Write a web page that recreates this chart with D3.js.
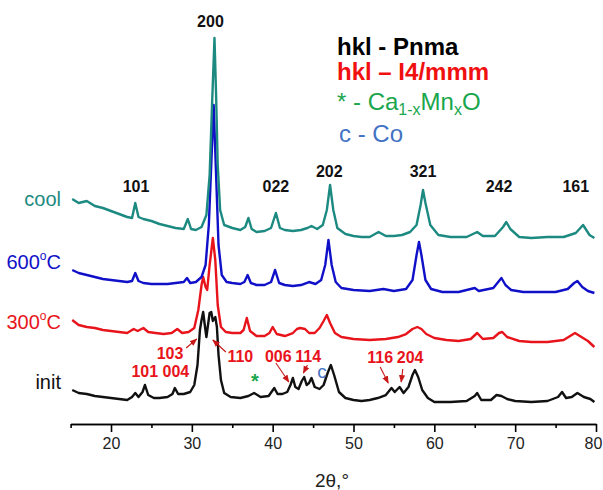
<!DOCTYPE html>
<html><head><meta charset="utf-8">
<script src="https://cdn.jsdelivr.net/npm/d3@7"></script>
<style>
body{margin:0;background:#fff;}
svg{display:block;font-family:"Liberation Sans",Arial,sans-serif;}
</style></head>
<body><svg id="c" width="603" height="490"></svg>
<script>
// 2θ (deg) and intensity (arbitrary units, offset included)
const initData = [[15.2,35],[16,32],[17,31],[18,29],[19,28],[20,27],[21,26],[22,25],[22.6,28],[23.0,32],[23.4,28],[23.9,33],[24.2,40],[24.6,30],[25.3,27],[26,27],[27,28],[27.6,31],[27.9,37],[28.3,31],[29,31],[29.8,33],[30.3,40],[30.7,60],[31.0,95],[31.2,105],[31.4,113],[31.6,100],[31.8,88],[32.0,100],[32.2,112],[32.4,113],[32.6,104],[32.9,108],[33.1,98],[33.3,70],[33.6,45],[34,32],[34.8,28],[36,27],[37,29],[37.7,32],[38.5,28],[39.5,29],[40.2,37],[40.6,31],[41.2,31],[41.8,33],[42.2,40],[42.5,47],[42.8,38],[43.2,36],[43.6,44],[43.9,48],[44.2,40],[44.5,42],[44.8,47],[45.2,38],[45.8,36],[46.3,40],[46.8,52],[47.2,60],[47.6,50],[48.2,33],[49,27],[50,25],[51,24],[52,25],[53,27],[54,30],[54.7,37],[55.1,33],[55.7,38],[56.2,32],[56.8,38],[57.3,50],[57.6,55],[58.0,48],[58.5,35],[59.2,27],[60,23],[62,23],[64,24],[65.0,29],[65.3,32],[65.8,25],[67,25],[67.7,30],[68.3,29],[69,26],[70,24],[72,23],[74,24],[75.3,28],[75.8,33],[76.3,27],[77.0,28],[77.7,32],[78.5,28],[79.3,26],[79.8,23]];
const t300Data = [[15.2,105],[16,100],[17,98],[18,97],[19,95],[20,94],[21,93],[22,92],[22.8,96],[23.3,94],[24.0,97],[24.6,93],[25.5,92],[26.5,91],[27.5,92],[28.2,96],[28.8,92],[29.6,93],[30.3,97],[30.8,115],[31.2,140],[31.4,148],[31.7,138],[31.9,135],[32.2,160],[32.6,187],[32.9,165],[33.2,120],[33.6,98],[34.2,93],[35,92],[36,92],[36.4,95],[36.8,107],[37.2,94],[38,89],[39,89],[39.6,92],[40.0,98],[40.5,91],[41.5,89],[42.5,92],[43.0,96],[43.4,97],[44,96],[44.5,92],[45.2,92],[45.8,97],[46.3,104],[46.7,110],[47.1,102],[47.7,92],[48.5,88],[50,86],[52,85],[54,86],[55.5,88],[56.5,91],[57.3,96],[57.9,98],[58.4,96],[59.0,91],[60,87],[61.5,85],[63,84],[64.5,86],[65.3,92],[66,86],[67.3,87],[68.0,92],[68.4,93],[69,88],[70.5,84],[72,83],[74,83],[76,85],[77.4,92],[78.2,88],[79,84],[79.8,78]];
const t600Data = [[15.2,155],[16,152],[17,150],[18,148],[19,146],[20,145],[21,144],[22,143],[22.6,144],[23.0,152],[23.4,144],[24,142],[25,141],[26,141],[27,141],[28,142],[29,143],[29.4,147],[29.8,142],[30.5,143],[31.2,148],[31.7,160],[32.1,200],[32.4,260],[32.7,320],[33.0,250],[33.3,180],[33.7,150],[34.3,143],[35,142],[36,141],[36.5,143],[36.9,150],[37.3,142],[38,140],[39,140],[39.8,143],[40.3,155],[40.8,142],[41.5,140],[42.5,139],[43.5,140],[44.5,143],[45.3,141],[46,145],[46.5,160],[46.9,185],[47.3,160],[47.8,143],[48.5,137],[50,135],[52,134],[53.7,136],[55,134],[56.5,136],[57.3,145],[57.8,170],[58.1,183],[58.4,170],[58.9,145],[59.6,136],[61,133],[63,133],[65.0,137],[65.5,134],[67.3,137],[68.3,147],[68.8,140],[69.5,135],[71,133],[73,133],[75,133],[76.5,136],[77.3,142],[77.7,144],[78.3,138],[79,134],[79.8,132]];
const coolData = [[15.2,226],[16,222],[17,224],[18,219],[19,217],[20,214],[21,211],[22,208],[22.6,207],[23.0,222],[23.4,208],[24,206],[25,204],[26,201],[27,199],[28,197],[29,196],[29.5,206],[29.9,196],[30.5,195],[31.2,198],[31.8,210],[32.2,250],[32.5,320],[32.8,387],[33.0,330],[33.2,260],[33.5,215],[34,200],[35,197],[36,195],[36.6,198],[37.0,207],[37.4,196],[38,193],[39,194],[39.8,197],[40.4,212],[40.9,197],[41.5,195],[42.5,194],[43.5,195],[44.3,197],[44.8,199],[45.5,196],[46.2,200],[46.7,215],[47.1,240],[47.5,215],[48,197],[49,191],[50,189],[51,188],[52,188],[53.1,193],[54,189],[55,189],[56,190],[57,193],[57.8,200],[58.3,220],[58.6,235],[58.9,222],[59.5,200],[60.5,190],[62,188],[64,188],[65.3,193],[66,189],[67.5,189],[68.5,198],[68.9,203],[69.4,196],[70.5,188],[72,187],[74,188],[76,188],[77.5,192],[78.4,200],[79.2,190],[79.8,187]];

const seriesNames = ["init","300°C","600°C","cool"];
const seriesColors = ["#111111","#e8141b","#1010c8","#1d8a82"];
const seriesData = [initData, t300Data, t600Data, coolData];

const xMajorTicks = [20,30,40,50,60,70,80];
const xMinorTicks = [15,25,35,45,55,65,75];

// Pnma reflections (label, 2θ, intensity level of label)
const pnmaLabels = [["101",23.1,233],["200",32.3,398],["022",40.4,233],["202",47.0,248],["321",58.6,248],["242",68.0,233],["161",77.5,233]];
// I4/mmm reflections: label, label 2θ, label level
const i4Labels = [["103",27.3,66],["101 004",26.1,48],["110",36.0,63],["006",40.7,63],["114",44.4,63],["116",53.3,62],["204",57.0,62]];
// arrows: from (2θ,level) to (2θ,level)
const i4Arrows = [[29.3,77,30.6,86],[34.2,73,32.6,85],[40.4,62,42.0,43],[44.3,60,43.8,52],[53.3,58,54.3,42],[56.1,56,55.9,43]];
const legendLines = ["hkl - Pnma","hkl – I4/mmm"];

const svg = d3.select("#c");
const x = d3.scaleLinear().domain([15,80]).range([70.6,596]);
const y = d3.scaleLinear().domain([0,400]).range([425,25]);

// axis
const axMinor = d3.axisBottom(x).tickValues(xMinorTicks).tickSize(4).tickSizeOuter(0).tickFormat("");
const axMajor = d3.axisBottom(x).tickValues(xMajorTicks).tickSize(8).tickSizeOuter(0).tickPadding(6);
svg.append("g").attr("transform","translate(0,424)").call(axMinor)
  .call(g=>g.selectAll("line,path").attr("stroke","#000").attr("stroke-width",1.6));
svg.append("g").attr("transform","translate(0,424)").call(axMajor)
  .call(g=>g.select(".domain").attr("stroke","#000").attr("stroke-width",1.6))
  .call(g=>g.selectAll(".tick line").attr("stroke","#000").attr("stroke-width",1.6))
  .call(g=>g.selectAll(".tick text").attr("font-size",16).attr("fill","#222").attr("font-family","Liberation Sans, Arial, sans-serif"))
  .call(g=>g.selectAll(".tick text").filter(d=>d===80).attr("dx",-3));
svg.append("text").attr("x",332).attr("y",487).attr("text-anchor","middle")
  .attr("font-size",19).attr("fill","#222").text("2θ,°");

// curves
const line = d3.line().x(d=>x(d[0])).y(d=>y(d[1])).curve(d3.curveLinear);
seriesData.forEach((s,i)=>{
  svg.append("path").datum(s).attr("d",line).attr("fill","none")
    .attr("stroke",seriesColors[i]).attr("stroke-width",2.4).attr("stroke-linejoin","round");
});

// series labels
const labY = [389,329,269,206];
seriesNames.forEach((n,i)=>{
  const t = svg.append("text").attr("x",61).attr("y",labY[i]).attr("text-anchor","end")
    .attr("font-size",20).attr("fill",seriesColors[i]);
  if(n.includes("°")){
    const parts = n.split("°");
    t.append("tspan").text(parts[0]);
    t.append("tspan").attr("font-size",12).attr("dy",-9).text("o");
    t.append("tspan").attr("dy",9).text(parts[1]);
  } else t.text(n);
});

// Pnma labels
svg.selectAll("text.pnma").data(pnmaLabels).join("text").attr("class","pnma")
  .attr("x",d=>x(d[1])).attr("y",d=>y(d[2])).attr("text-anchor","middle")
  .attr("font-size",16).attr("font-weight","bold").attr("fill","#111").text(d=>d[0]);

// I4/mmm labels
svg.selectAll("text.i4").data(i4Labels).join("text").attr("class","i4")
  .attr("x",d=>x(d[1])).attr("y",d=>y(d[2])).attr("text-anchor","middle")
  .attr("font-size",16).attr("font-weight","bold").attr("fill","#e8141b").text(d=>d[0]);

const defs = svg.append("defs");
defs.append("marker").attr("id","ah").attr("viewBox","0 0 10 10").attr("refX",9).attr("refY",5)
  .attr("markerWidth",7).attr("markerHeight",7).attr("orient","auto")
  .append("path").attr("d","M0,1 L10,5 L0,9 z").attr("fill","#c81818");
svg.selectAll("line.arr").data(i4Arrows).join("line").attr("class","arr")
  .attr("x1",d=>x(d[0])).attr("y1",d=>y(d[1])).attr("x2",d=>x(d[2])).attr("y2",d=>y(d[3]))
  .attr("stroke","#c81818").attr("stroke-width",1.1).attr("marker-end","url(#ah)");

// impurity markers
svg.append("text").attr("x",x(37.8)).attr("y",y(37)).attr("text-anchor","middle")
  .attr("font-size",20).attr("font-weight","bold").attr("fill","#19a64c").text("*");
svg.append("text").attr("x",x(46.1)).attr("y",y(47)).attr("text-anchor","middle")
  .attr("font-size",19).attr("fill","#4472c4").text("c");

// legend
svg.append("text").attr("x",337).attr("y",55).attr("font-size",24).attr("font-weight","bold")
  .attr("fill","#000").text(legendLines[0]);
svg.append("text").attr("x",337).attr("y",80).attr("font-size",24).attr("font-weight","bold")
  .attr("fill","#f01010").text(legendLines[1]);
const g3 = svg.append("text").attr("x",337).attr("y",110).attr("font-size",24).attr("fill","#19a64c");
g3.append("tspan").text("* - Ca");
g3.append("tspan").attr("font-size",16).attr("dy",5).text("1-x");
g3.append("tspan").attr("dy",-5).text("Mn");
g3.append("tspan").attr("font-size",16).attr("dy",5).text("x");
g3.append("tspan").attr("dy",-5).text("O");
svg.append("text").attr("x",339).attr("y",142).attr("font-size",24).attr("fill","#4472c4").text("c - Co");
</script></body></html>
